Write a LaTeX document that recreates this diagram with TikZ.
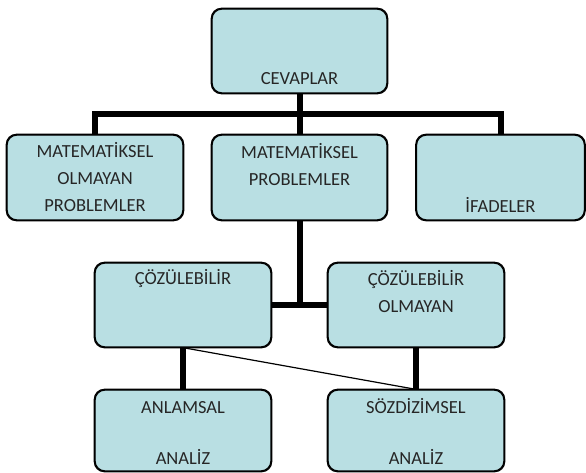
\documentclass[tikz,border=0pt]{standalone}
\usepackage{fontspec}
\setmainfont{Carlito}
\definecolor{boxfill}{HTML}{B9DFE3}
\begin{document}
\begin{tikzpicture}[x=1pt,y=-1pt,
  box/.style={draw=black,line width=1.3pt,fill=boxfill,rounded corners=10pt,inner sep=0pt,minimum width=176pt,minimum height=84pt},
  txt/.style={anchor=base,align=center,inner sep=0pt,font=\fontsize{18.5}{27}\selectfont,text=black!85},
  conn/.style={line width=6pt},
  thinconn/.style={line width=1.2pt}]
\useasboundingbox (0,0) rectangle (586,472);
\node[box,minimum width=175pt] (cev) at (299.5,51) {};
\node[box,minimum height=85pt] (mnp) at (95,177.5) {};
\node[box,minimum width=175pt,minimum height=85pt] (mp) at (299.5,177.5) {};
\node[box,minimum width=168pt,minimum height=85pt] (ifa) at (500.5,177.5) {};
\node[box] (c1) at (183,305) {};
\node[box] (c2) at (416,305) {};
\node[box,minimum height=81pt] (an) at (183,430.5) {};
\node[box,minimum height=81pt] (sz) at (416,430.5) {};
\draw[conn] (cev.south) -- (mp.north);
\draw[conn] (mnp.north) -- (mnp.north |- 0,114) -- (ifa.north |- 0,114) -- (ifa.north);
\draw[conn] (mp.south) -- (mp.south |- c1.east);
\draw[conn] (c1.east) -- (c2.west);
\draw[conn] (c1.south) -- (an.north);
\draw[conn] (c2.south) -- (sz.north);
\draw[thinconn] (c1.south) -- (sz.north);
% redraw box outlines over connector ends
\foreach \n in {cev,mnp,mp,ifa,c1,c2,an,sz}{
  \draw[line width=1.3pt,rounded corners=10pt] (\n.north west) rectangle (\n.south east);
}
\node[txt] (tcev) at ([yshift=9pt]cev.south) {CEVAPLAR};
\node[txt] (tmnp) at ([yshift=-77pt]mnp.north) {MATEMATİKSEL\\OLMAYAN\\PROBLEMLER};
\node[txt] (tmp) at ([yshift=-51pt]mp.north) {MATEMATİKSEL\\PROBLEMLER};
\node[txt] (tifa) at ([yshift=8pt]ifa.south) {İFADELER};
\node[txt] (tc1) at ([yshift=-22pt]c1.north) {ÇÖZÜLEBİLİR};
\node[txt] (tc2) at ([yshift=-50pt]c2.north) {ÇÖZÜLEBİLİR\\OLMAYAN};
\node[txt] (tan) at ([yshift=-75pt]an.north) {ANLAMSAL\\[24pt]ANALİZ};
\node[txt] (tsz) at ([yshift=-75pt]sz.north) {SÖZDİZİMSEL\\[24pt]ANALİZ};
\end{tikzpicture}
\end{document}
